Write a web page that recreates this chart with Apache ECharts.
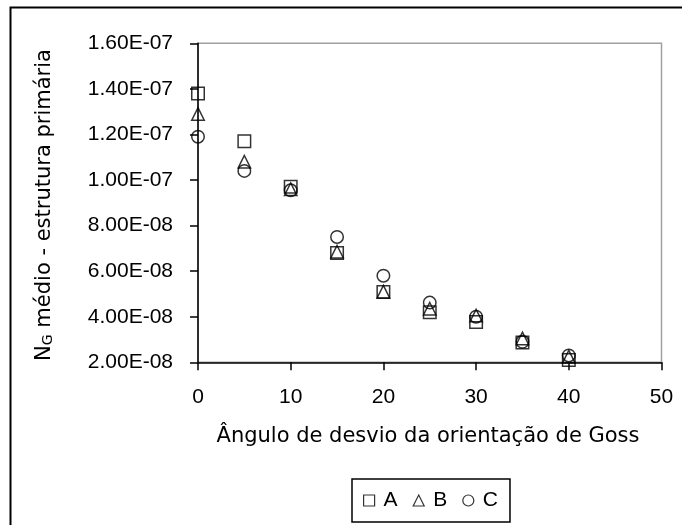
<!DOCTYPE html>
<html>
<head>
<meta charset="utf-8">
<script src="https://cdn.jsdelivr.net/npm/echarts@6/dist/echarts.min.js"></script>
<style>html,body{margin:0;padding:0;background:#fff}#c{width:682px;height:525px}</style>
</head>
<body>
<div id="c"></div>
<script>
const xValues = [0, 5, 10, 15, 20, 25, 30, 35, 40];
const seriesA = [1.38e-7, 1.17e-7, 9.7e-8, 6.8e-8, 5.08e-8, 4.2e-8, 3.77e-8, 2.87e-8, 2.1e-8];
const seriesB = [1.29e-7, 1.08e-7, 9.6e-8, 6.85e-8, 5.1e-8, 4.35e-8, 4.05e-8, 3.05e-8, 2.25e-8];
const seriesC = [1.19e-7, 1.04e-7, 9.55e-8, 7.5e-8, 5.8e-8, 4.62e-8, 4.0e-8, 2.9e-8, 2.3e-8];
const seriesNames = ['A', 'B', 'C'];
const xTitle = 'Ângulo de desvio da orientação de Goss';
const yTitleParts = ['N', 'G', ' médio - estrutura primária'];

const FONT = '"Liberation Sans", Arial, sans-serif';
const TFONT = '"DejaVu Sans", "Liberation Sans", sans-serif';

function fmtSci(v) {
  const s = Number(v).toExponential(2);
  const parts = s.split('e');
  const e = parseInt(parts[1], 10);
  const sign = e < 0 ? '-' : '+';
  return parts[0] + 'E' + sign + String(Math.abs(e)).padStart(2, '0');
}

function pairs(ys) { return xValues.map((x, i) => [x, ys[i]]); }

const markerStyle = { color: 'rgba(0,0,0,0)', borderColor: '#000', borderWidth: 1.5 };
const symbols = ['rect', 'triangle', 'circle'];
const allData = [seriesA, seriesB, seriesC];

const chart = echarts.init(document.getElementById('c'), null, { renderer: 'canvas' });
chart.setOption({
  animation: false,
  backgroundColor: '#fff',
  grid: {
    left: 198, right: 20.5, top: 43.3, bottom: 162.7,
    show: true, borderColor: '#a0a0a0', borderWidth: 1.5, backgroundColor: 'transparent'
  },
  xAxis: {
    type: 'value', min: 0, max: 50, interval: 10,
    axisLine: { show: true, lineStyle: { color: '#000', width: 1.5 } },
    axisTick: { show: true, length: 8, lineStyle: { color: '#000', width: 1.5 } },
    axisLabel: { color: '#000', fontSize: 21, fontFamily: FONT, margin: 24 },
    splitLine: { show: false }
  },
  yAxis: {
    type: 'value', min: 2e-8, max: 1.6e-7, interval: 2e-8,
    axisLine: { show: true, lineStyle: { color: '#000', width: 1.5 } },
    axisTick: { show: true, length: 8, lineStyle: { color: '#000', width: 1.5 } },
    axisLabel: { color: '#000', fontSize: 21, fontFamily: FONT, margin: 25, formatter: fmtSci },
    splitLine: { show: false }
  },
  legend: {
    left: 352, top: 479,
    orient: 'horizontal',
    backgroundColor: '#fff',
    borderColor: '#000', borderWidth: 1.5,
    padding: [11, 12, 11, 11],
    itemWidth: 11, itemHeight: 11, itemGap: 15,
    textStyle: { color: '#000', fontSize: 21, fontFamily: FONT, padding: [0, 0, 0, 4] },
    itemStyle: { color: 'rgba(0,0,0,0)', borderColor: '#000', borderWidth: 1.2 },
    data: seriesNames
  },
  graphic: [
    {
      type: 'rect', silent: true, z: -10,
      shape: { x: 10.5, y: 7.5, width: 700, height: 560 },
      style: { fill: 'none', stroke: '#000', lineWidth: 2 }
    },
    {
      type: 'text', x: 428, y: 437,
      style: { text: xTitle, font: '21px ' + TFONT, fill: '#000', align: 'center', verticalAlign: 'middle' }
    },
    {
      type: 'text', x: 45, y: 205, rotation: Math.PI / 2,
      style: {
        text: '{n|' + yTitleParts[0] + '}{s|' + yTitleParts[1] + '}{n|' + yTitleParts[2] + '}',
        align: 'center', verticalAlign: 'middle', fill: '#000',
        rich: {
          n: { fontSize: 21, fontFamily: TFONT, fill: '#000', verticalAlign: 'bottom' },
          s: { fontSize: 14, fontFamily: TFONT, fill: '#000', verticalAlign: 'bottom' }
        }
      }
    }
  ],
  series: seriesNames.map((name, k) => ({
    name: name,
    type: 'scatter',
    symbol: symbols[k],
    symbolSize: 12.5,
    clip: false,
    itemStyle: markerStyle,
    emphasis: { disabled: true },
    data: pairs(allData[k])
  }))
});
</script>
</body>
</html>
